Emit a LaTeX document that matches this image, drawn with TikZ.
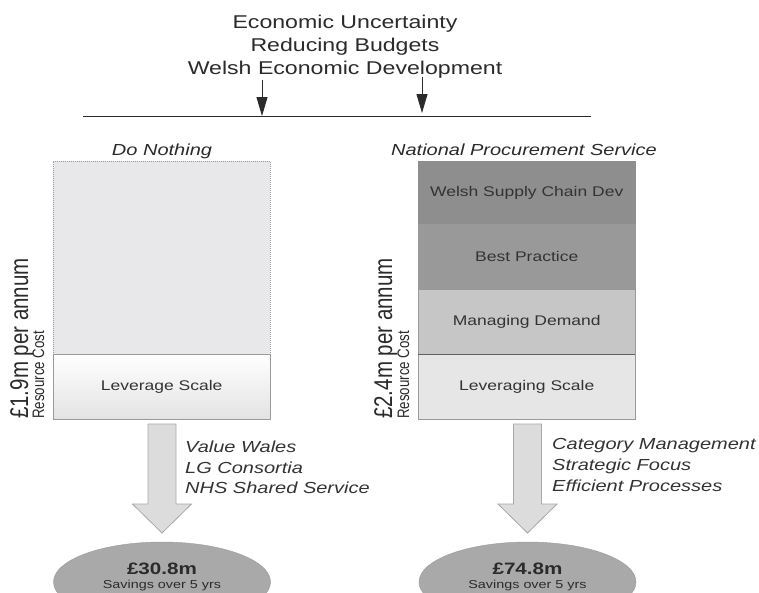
\documentclass[tikz,border=0pt]{standalone}
\usepackage{fontspec}
\setmainfont{Liberation Sans}[FakeStretch=1.25]
\newfontfamily\rotfont{Liberation Sans}
\usetikzlibrary{arrows.meta,shapes.geometric}
\definecolor{txt}{HTML}{2B2B2B}
\definecolor{boxtxt}{HTML}{333333}
\definecolor{dnfill}{HTML}{E8E8EA}
\definecolor{lay1}{HTML}{8E8E8E}
\definecolor{lay2}{HTML}{999999}
\definecolor{lay3}{HTML}{C6C6C6}
\definecolor{lay4}{HTML}{E6E6E6}
\definecolor{bord}{HTML}{9A9A9A}
\definecolor{arrfill}{HTML}{DCDCDC}
\definecolor{arrbord}{HTML}{A8A8A8}
\definecolor{ellfill}{HTML}{A9A9A9}
\newcommand\blockarr[1]{%
  \draw[barrow] (#1-14,424) -- (#1+14,424) -- (#1+14,504) -- (#1+29.5,504)
    -- (#1,533) -- (#1-29.5,504) -- (#1-14,504) -- cycle;}
\begin{document}
\begin{tikzpicture}[x=1pt,y=-1pt,
  toptext/.style={font=\fontsize{18.5}{22}\selectfont, text=txt, inner sep=0, anchor=base},
  heading/.style={font=\fontsize{16}{18}\selectfont\itshape, text=txt, inner sep=0, anchor=base},
  layer/.style={minimum width=217, minimum height=65, inner sep=0, anchor=north west,
    font=\fontsize{14}{16}\selectfont, text=boxtxt, draw=bord},
  rotbig/.style={rotate=90, anchor=base west, inner sep=0, text=txt},
  sidetext/.style={font=\fontsize{16}{18}\selectfont\itshape, text=boxtxt, inner sep=0, anchor=base west},
  barrow/.style={fill=arrfill, draw=arrbord, line width=0.8pt},
  ptr/.style={draw=txt, line width=1pt, -{Triangle[length=19pt,width=11pt]}},
  savell/.style={ellipse, fill=ellfill, draw=bord, minimum width=217, minimum height=80, inner sep=0},
  bigval/.style={font=\fontsize{16.5}{18}\selectfont\bfseries, text=txt, inner sep=0, anchor=base},
  smallval/.style={font=\fontsize{11.5}{13}\selectfont, text=txt, inner sep=0, anchor=base}
]
\clip (0,0) rectangle (759,592);
\fill[white] (0,0) rectangle (759,592);

% top texts
\node[toptext] (t1) at (345,28) {Economic Uncertainty};
\node[toptext] (t2) at (345,51) {Reducing Budgets};
\node[toptext] (t3) at (345,74) {Welsh Economic Development};

% horizontal line
\coordinate (hl) at (83,116);
\coordinate (hr) at (591,116);
\draw[draw=txt, line width=1pt] (hl) -- (hr);
\coordinate (a1s) at (262,80);
\coordinate (a1e) at (262,116);
\coordinate (a2s) at (422,77);
\coordinate (a2e) at (422,113);
\draw[ptr] (a1s) -- (a1e);
\draw[ptr] (a2s) -- (a2e);

% headings
\node[heading] (h1) at (162,155) {Do Nothing};
\node[heading] (h2) at (524,155) {National Procurement Service};

% left box
\node[layer, minimum height=193, fill=dnfill, draw=gray!80, dash pattern=on 1pt off 1pt] (dn) at (53,161) {};
\node[layer, top color=white, bottom color=gray!22, draw=bord] (ls1) at (53,354) {Leverage Scale};

% right box
\node[layer, minimum height=63, fill=lay1, draw=lay1] (r1) at (418,161) {Welsh Supply Chain Dev};
\node[layer, fill=lay2, draw=lay2] (r2) at (418,224) {Best Practice};
\node[layer, fill=lay3] (r3) at (418,289) {Managing Demand};
\node[layer, fill=lay4] (r4) at (418,354) {Leveraging Scale};
\draw[draw=gray!75!black, line width=1.4pt] (r3.south west) -- (r3.south east);

% vertical labels
\node[rotbig] (v1) at (28,419) {\rotfont\fontsize{20.5}{22}\selectfont\scalebox{1}[1.25]{£1.9m per annum}};
\node[rotbig] (v2) at (44,419) {\rotfont\fontsize{13.3}{15}\selectfont\scalebox{1}[1.25]{Resource Cost}};
\node[rotbig] (v3) at (392,419) {\rotfont\fontsize{20.5}{22}\selectfont\scalebox{1}[1.25]{£2.4m per annum}};
\node[rotbig] (v4) at (409,419) {\rotfont\fontsize{13.3}{15}\selectfont\scalebox{1}[1.25]{Resource Cost}};

% block arrows
\blockarr{162}
\blockarr{527.5}

% side texts
\node[sidetext] (s1) at (185,452) {Value Wales};
\node[sidetext] (s2) at (185,473) {LG Consortia};
\node[sidetext] (s3) at (185,493) {NHS Shared Service};
\node[sidetext] (s4) at (552,449) {Category Management};
\node[sidetext] (s5) at (552,470) {Strategic Focus};
\node[sidetext] (s6) at (552,491) {Efficient Processes};

% savings ellipses
\node[savell] (e1) at (162,582) {};
\node[savell] (e2) at (527.5,582) {};
\node[bigval] (b1) at (162,574) {£30.8m};
\node[smallval] (m1) at (162,588) {Savings over 5 yrs};
\node[bigval] (b2) at (527.5,574) {£74.8m};
\node[smallval] (m2) at (527.5,588) {Savings over 5 yrs};
\end{tikzpicture}
\end{document}
